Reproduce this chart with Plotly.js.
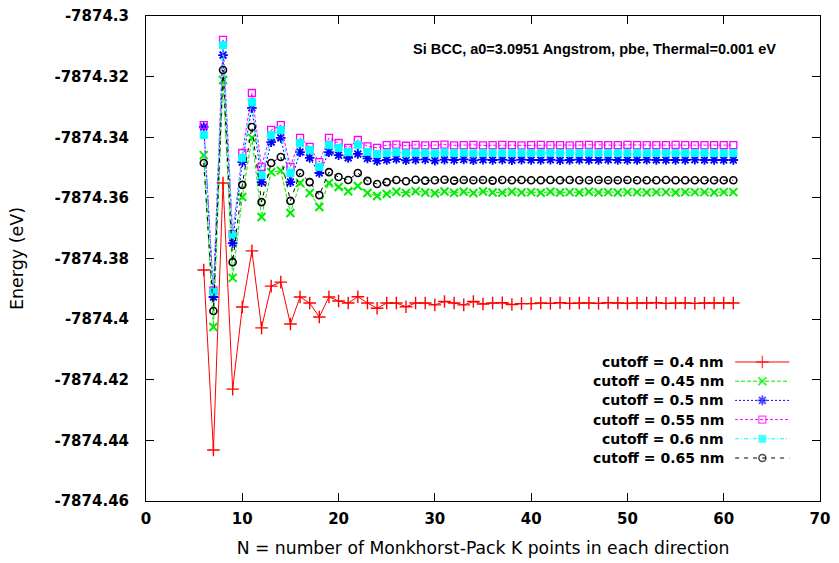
<!DOCTYPE html>
<html>
<head>
<meta charset="utf-8">
<script src="https://cdn.plot.ly/plotly-3.0.1.min.js"></script>
<style>html,body{margin:0;padding:0;background:#fff}#chart{width:839px;height:563px}</style>
</head>
<body>
<div id="chart"></div>
<script>
// N = number of Monkhorst-Pack k-points in each direction
const kpoints = [6,7,8,9,10,11,12,13,14,15,16,17,18,19,20,21,22,23,24,25,26,27,28,29,30,31,32,33,34,35,36,37,38,39,40,41,42,43,44,45,46,47,48,49,50,51,52,53,54,55,56,57,58,59,60,61];

const seriesNames = ["cutoff = 0.4 nm","cutoff = 0.45 nm","cutoff = 0.5 nm","cutoff = 0.55 nm","cutoff = 0.6 nm","cutoff = 0.65 nm"];

const cut040 = [-7874.3838,-7874.4432,-7874.3551,-7874.4231,-7874.3960,-7874.3775,-7874.4029,-7874.3891,-7874.3878,-7874.4016,-7874.3927,-7874.3947,-7874.3993,-7874.3927,-7874.3940,-7874.3947,-7874.3926,-7874.3947,-7874.3964,-7874.3947,-7874.3947,-7874.3959,-7874.3947,-7874.3947,-7874.3953,-7874.3942,-7874.3947,-7874.3953,-7874.3942,-7874.3950,-7874.3947,-7874.3946,-7874.3952,-7874.3949,-7874.3949,-7874.3947,-7874.3948,-7874.3946,-7874.3948,-7874.3947,-7874.3947,-7874.3948,-7874.3946,-7874.3947,-7874.3948,-7874.3947,-7874.3947,-7874.3946,-7874.3948,-7874.3947,-7874.3947,-7874.3948,-7874.3947,-7874.3947,-7874.3947,-7874.3947];

const cut045 = [-7874.3459,-7874.4026,-7874.3211,-7874.3864,-7874.3597,-7874.3402,-7874.3663,-7874.3515,-7874.3510,-7874.3650,-7874.3551,-7874.3584,-7874.3630,-7874.3551,-7874.3564,-7874.3578,-7874.3561,-7874.3584,-7874.3594,-7874.3587,-7874.3580,-7874.3584,-7874.3578,-7874.3582,-7874.3585,-7874.3579,-7874.3583,-7874.3580,-7874.3584,-7874.3579,-7874.3582,-7874.3583,-7874.3580,-7874.3582,-7874.3581,-7874.3583,-7874.3580,-7874.3582,-7874.3581,-7874.3582,-7874.3580,-7874.3582,-7874.3581,-7874.3582,-7874.3581,-7874.3581,-7874.3582,-7874.3581,-7874.3581,-7874.3582,-7874.3581,-7874.3581,-7874.3581,-7874.3582,-7874.3581,-7874.3581];

const cut050 = [-7874.3366,-7874.3927,-7874.3129,-7874.3749,-7874.3482,-7874.3303,-7874.3548,-7874.3416,-7874.3402,-7874.3548,-7874.3449,-7874.3468,-7874.3518,-7874.3449,-7874.3459,-7874.3468,-7874.3455,-7874.3470,-7874.3478,-7874.3475,-7874.3472,-7874.3476,-7874.3474,-7874.3473,-7874.3477,-7874.3474,-7874.3475,-7874.3473,-7874.3476,-7874.3474,-7874.3475,-7874.3474,-7874.3476,-7874.3474,-7874.3475,-7874.3475,-7874.3474,-7874.3476,-7874.3475,-7874.3474,-7874.3475,-7874.3475,-7874.3474,-7874.3475,-7874.3475,-7874.3475,-7874.3474,-7874.3475,-7874.3475,-7874.3475,-7874.3475,-7874.3474,-7874.3475,-7874.3475,-7874.3475,-7874.3475];

const cut055 = [-7874.3360,-7874.3905,-7874.3079,-7874.3720,-7874.3452,-7874.3254,-7874.3498,-7874.3376,-7874.3360,-7874.3498,-7874.3402,-7874.3432,-7874.3482,-7874.3402,-7874.3419,-7874.3435,-7874.3409,-7874.3430,-7874.3435,-7874.3426,-7874.3424,-7874.3428,-7874.3425,-7874.3427,-7874.3426,-7874.3424,-7874.3427,-7874.3426,-7874.3425,-7874.3427,-7874.3426,-7874.3425,-7874.3426,-7874.3427,-7874.3426,-7874.3425,-7874.3426,-7874.3426,-7874.3427,-7874.3426,-7874.3425,-7874.3426,-7874.3426,-7874.3426,-7874.3425,-7874.3426,-7874.3426,-7874.3426,-7874.3426,-7874.3425,-7874.3426,-7874.3426,-7874.3426,-7874.3426,-7874.3426,-7874.3426];

const cut060 = [-7874.3393,-7874.3910,-7874.3096,-7874.3722,-7874.3468,-7874.3284,-7874.3525,-7874.3393,-7874.3376,-7874.3518,-7874.3419,-7874.3442,-7874.3498,-7874.3426,-7874.3435,-7874.3449,-7874.3425,-7874.3448,-7874.3455,-7874.3452,-7874.3450,-7874.3453,-7874.3451,-7874.3452,-7874.3453,-7874.3450,-7874.3452,-7874.3451,-7874.3453,-7874.3452,-7874.3451,-7874.3452,-7874.3452,-7874.3451,-7874.3452,-7874.3452,-7874.3451,-7874.3452,-7874.3452,-7874.3452,-7874.3451,-7874.3452,-7874.3452,-7874.3452,-7874.3452,-7874.3451,-7874.3452,-7874.3452,-7874.3452,-7874.3452,-7874.3452,-7874.3452,-7874.3451,-7874.3452,-7874.3452,-7874.3452];

const cut065 = [-7874.3485,-7874.3973,-7874.3178,-7874.3812,-7874.3557,-7874.3366,-7874.3614,-7874.3485,-7874.3465,-7874.3610,-7874.3518,-7874.3548,-7874.3591,-7874.3515,-7874.3531,-7874.3541,-7874.3518,-7874.3544,-7874.3554,-7874.3548,-7874.3541,-7874.3545,-7874.3540,-7874.3543,-7874.3542,-7874.3540,-7874.3543,-7874.3541,-7874.3542,-7874.3541,-7874.3543,-7874.3541,-7874.3542,-7874.3541,-7874.3542,-7874.3542,-7874.3541,-7874.3542,-7874.3541,-7874.3542,-7874.3542,-7874.3541,-7874.3542,-7874.3542,-7874.3541,-7874.3542,-7874.3542,-7874.3542,-7874.3541,-7874.3542,-7874.3542,-7874.3542,-7874.3542,-7874.3542,-7874.3542,-7874.3542];

const yTickVals = [-7874.46,-7874.44,-7874.42,-7874.40,-7874.38,-7874.36,-7874.34,-7874.32,-7874.30];
const yTickText = ["-7874.46","-7874.44","-7874.42","-7874.4","-7874.38","-7874.36","-7874.34","-7874.32","-7874.3"];
const xTickVals = [0,10,20,30,40,50,60,70];
const xTickText = ["0","10","20","30","40","50","60","70"];

const allSeries = [cut040,cut045,cut050,cut055,cut060,cut065];
const styles = [
  {color:"#ff0000", dash:"solid",            symbol:"cross-thin-open", size:9, lw:1.4},
  {color:"#00ee00", dash:"4px,2px",          symbol:"x-thin-open",     size:8, lw:2},
  {color:"#0000ff", dash:"2px,2px",          symbol:"asterisk-open",   size:8, lw:1.8},
  {color:"#ff00ff", dash:"3px,2px",          symbol:"square-open",     size:7, lw:1.3},
  {color:"#00ffff", dash:"4px,2px,1px,2px",  symbol:"square",          size:7, lw:1},
  {color:"#000000", dash:"4px,5px",          symbol:"circle-open",     size:7, lw:1.6}
];

const tickFont = "Liberation Sans, Arial, Helvetica, sans-serif";
const wideFont = "DejaVu Sans, Verdana, sans-serif";
const traces = [];
allSeries.forEach((ys, i) => {
  const s = styles[i];
  traces.push({
    type:"scatter", mode:"lines+markers", x:kpoints, y:ys, name:seriesNames[i],
    line:{color:s.color, width:1, dash:s.dash},
    marker:{symbol:s.symbol, size:s.size, color:s.color, line:{color:s.color, width:s.lw}},
    showlegend:false, hoverinfo:"skip"
  });
});
// legend samples (symbol on the right of the text, gnuplot style)
const legendAnn = [];
allSeries.forEach((ys, i) => {
  const s = styles[i];
  traces.push({
    type:"scatter", mode:"lines+markers", x:[0,0.5,1], y:[i,i,i], xaxis:"x2", yaxis:"y2",
    line:{color:s.color, width:1, dash:s.dash},
    marker:{symbol:s.symbol, size:[0,s.size,0], color:s.color, line:{color:s.color, width:s.lw}},
    showlegend:false, hoverinfo:"skip"
  });
  legendAnn.push({xref:"paper", yref:"y2", x:0.861, y:i, xanchor:"right", yanchor:"middle",
    text:seriesNames[i], showarrow:false, font:{family:wideFont, size:14, color:"#000", weight:"bold"}});
});

const layout = {
  width:839, height:563,
  margin:{l:146, r:19, t:16, b:62},
  paper_bgcolor:"#fff", plot_bgcolor:"#fff",
  showlegend:false,
  xaxis:{range:[0,70], tickvals:xTickVals, ticktext:xTickText, ticks:"inside", ticklen:8,
    tickcolor:"#000", showline:true, linecolor:"#000", linewidth:1, mirror:"ticks",
    showgrid:false, zeroline:false, ticklabelstandoff:4,
    tickfont:{family:wideFont, size:15, color:"#000", weight:"bold"},
    title:{text:"N = number of Monkhorst-Pack K points in each direction", font:{family:wideFont, size:17.2, color:"#000"}, standoff:14}},
  yaxis:{range:[-7874.46,-7874.30], tickvals:yTickVals, ticktext:yTickText, ticks:"inside", ticklen:8,
    tickcolor:"#000", showline:true, linecolor:"#000", linewidth:1, mirror:"ticks",
    showgrid:false, zeroline:false, ticklabelstandoff:13,
    tickfont:{family:wideFont, size:15, color:"#000", weight:"bold"},
    title:{text:"Energy (eV)", font:{family:wideFont, size:17.5, color:"#000"}, standoff:26}},
  xaxis2:{domain:[0.874,0.955], range:[0,1], visible:false, anchor:"y2", fixedrange:true},
  yaxis2:{domain:[0.0689,0.3064], range:[5.5,-0.5], visible:false, anchor:"x2", fixedrange:true},
  annotations:[
    {xref:"paper", yref:"paper", x:0.666, y:0.932, xanchor:"center", yanchor:"middle", showarrow:false,
     text:"Si BCC, a0=3.0951 Angstrom, pbe, Thermal=0.001 eV", font:{family:tickFont, size:14.5, color:"#000", weight:"bold"}}
  ].concat(legendAnn)
};

Plotly.newPlot("chart", traces, layout, {staticPlot:true, displayModeBar:false});
</script>
</body>
</html>
